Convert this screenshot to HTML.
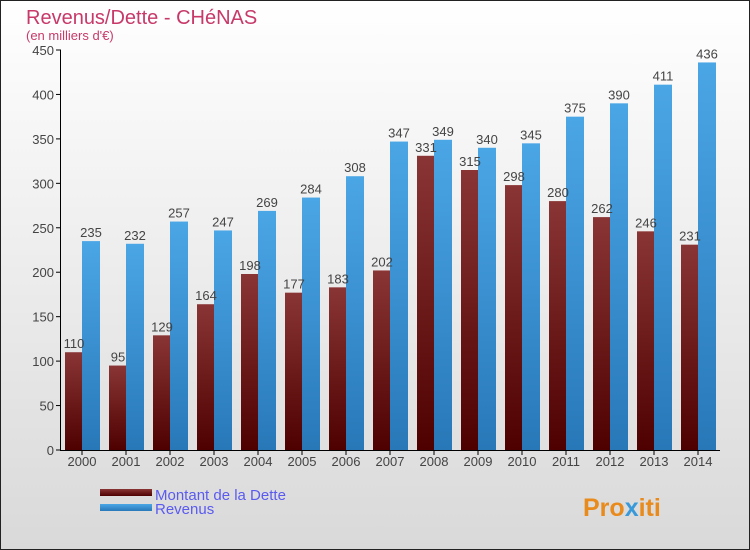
<!DOCTYPE html>
<html><head><meta charset="utf-8"><style>
body{margin:0}
#c{width:750px;height:550px;position:relative;overflow:hidden;font-family:"Liberation Sans","DejaVu Sans",sans-serif;}
</style></head><body>
<div id="c">
<svg width="750" height="550" xmlns="http://www.w3.org/2000/svg" id="svg">
<defs>
<linearGradient id="bg" x1="0" y1="0" x2="0" y2="1"><stop offset="0" stop-color="#ffffff"/><stop offset="1" stop-color="#d9d9d9"/></linearGradient>
<linearGradient id="gd" x1="0" y1="0" x2="0" y2="1"><stop offset="0" stop-color="#8a3535"/><stop offset="1" stop-color="#4e0000"/></linearGradient>
<linearGradient id="gr" x1="0" y1="0" x2="0" y2="1"><stop offset="0" stop-color="#4ba6e6"/><stop offset="1" stop-color="#2878b8"/></linearGradient>
</defs>
<rect x="0.5" y="0.5" width="749" height="549" fill="url(#bg)" stroke="#222"/>
<text x="26" y="24" font-size="20" fill="#c8396a">Revenus/Dette - CHéNAS</text>
<text x="26" y="40" font-size="13" fill="#c8396a">(en milliers d'€)</text>
<g id="plot"></g>
<rect x="100" y="489" width="52" height="7" fill="url(#gd)"/>
<rect x="100" y="504" width="52" height="7" fill="url(#gr)"/>
<text x="155" y="500" font-size="15" fill="#5a5af0">Montant de la Dette</text>
<text x="155" y="514" font-size="15" fill="#5a5af0">Revenus</text>
<text x="583" y="516" font-size="25" font-weight="bold" fill="#e98a1c">Pro<tspan fill="#3a9ad9">x</tspan>iti</text>
</svg>
</div>
<script>
const years=[2000,2001,2002,2003,2004,2005,2006,2007,2008,2009,2010,2011,2012,2013,2014];
const dette=[110,95,129,164,198,177,183,202,331,315,298,280,262,246,231];
const revenus=[235,232,257,247,269,284,308,347,349,340,345,375,390,411,436];
const yTicks=[0,50,100,150,200,250,300,350,400,450];
const NS="http://www.w3.org/2000/svg";
const g=document.getElementById('plot');
const y=v=>450-v*400/450;
const xc=i=>82+i*44;
function mk(t,a,txt){const e=document.createElementNS(NS,t);for(const k in a)e.setAttribute(k,a[k]);if(txt!==undefined)e.textContent=txt;g.appendChild(e);return e;}
yTicks.forEach(v=>{
 const l=mk('line',{x1:56,x2:61,y1:y(v),y2:y(v),stroke:'#000'});
 
 
 const t=mk('text',{x:54,y:y(v)+5,'font-size':13,fill:'#444','text-anchor':'end'},v);
 
 
});
years.forEach((yr,i)=>{
 const c=xc(i);
 const b1=mk('rect',{x:c-17,y:y(dette[i]),width:17,height:450-y(dette[i]),fill:'url(#gd)'});
 
 
 const b2=mk('rect',{x:c,y:y(revenus[i]),width:18,height:450-y(revenus[i]),fill:'url(#gr)'});
 
 
 const t1=mk('text',{x:c-8,y:y(dette[i])-4,'font-size':13,fill:'#444','text-anchor':'middle'},dette[i]);
 
 
 const t2=mk('text',{x:c+9,y:y(revenus[i])-4,'font-size':13,fill:'#444','text-anchor':'middle'},revenus[i]);
 
 
 const tk=mk('line',{x1:c,x2:c,y1:450,y2:455,stroke:'#000'});
 
 
 const xl=mk('text',{x:c,y:466,'font-size':13,fill:'#444','text-anchor':'middle'},yr);
 
 
});
const ax=mk('line',{x1:60.5,x2:60.5,y1:50,y2:450,stroke:'#000'});


const bx=mk('line',{x1:60,x2:720,y1:450.5,y2:450.5,stroke:'#000'});


</script>
</body></html>
